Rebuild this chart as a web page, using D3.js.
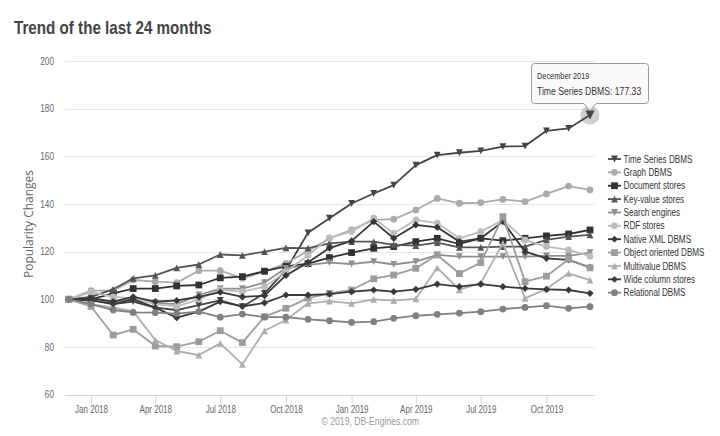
<!DOCTYPE html>
<html>
<head>
<meta charset="utf-8">
<script src="https://cdn.jsdelivr.net/npm/d3@7"></script>
<style>
  body { margin: 0; background: #fff; }
  svg { display: block; }
  text { font-family: "Liberation Sans", Arial, sans-serif; }
</style>
</head>
<body>
<svg width="720" height="436"></svg>
<script>
// maanden (Dec 2017 t/m Dec 2019)
var months = ["2017-12", "2018-01", "2018-02", "2018-03", "2018-04", "2018-05", "2018-06",
  "2018-07", "2018-08", "2018-09", "2018-10", "2018-11", "2018-12", "2019-01", "2019-02",
  "2019-03", "2019-04", "2019-05", "2019-06", "2019-07", "2019-08", "2019-09", "2019-10",
  "2019-11", "2019-12"]

var tickMonths = ["2018-01", "2018-04", "2018-07", "2018-10", "2019-01", "2019-04", "2019-07", "2019-10"]
var yTicks = [60, 80, 100, 120, 140, 160, 180, 200]

var names = ["Time Series DBMS", "Graph DBMS", "Document stores", "Key-value stores", "Search engines",
  "RDF stores", "Native XML DBMS", "Object oriented DBMS", "Multivalue DBMS", "Wide column stores", "Relational DBMS"]

var timeSeries = [100, 100.5, 98, 99, 96.5, 95.5, 97.5, 99.5, 96.9, 102.5, 112.3, 127.9, 134, 140.2, 144.4, 147.9, 156.3, 160.5, 161.5, 162.3, 164.1, 164.3, 170.7, 171.7, 177.33]
var graph = [100, 103.6, 103.6, 108.1, 107.4, 107, 112, 112, 108.8, 111.6, 115.1, 120.3, 125.6, 129.1, 133.3, 133.6, 137.5, 142.3, 140.3, 140.6, 141.9, 141, 144.2, 147.5, 145.9]
var documentStores = [100, 100, 102.5, 104.5, 104.5, 105.6, 106, 109, 109.5, 111.8, 113.8, 115, 117.5, 119.6, 121.4, 122.1, 124.2, 125.6, 123.2, 125.6, 124.6, 125.6, 126.6, 127.4, 129.1]
var keyValue = [100, 101, 104.2, 108.8, 110, 113.2, 114.6, 118.8, 118.4, 120, 121.6, 121.5, 123.5, 124.2, 124.2, 122.8, 122.5, 123.8, 121.8, 121.8, 122.1, 122.1, 124.9, 126.3, 127]
var searchEngines = [100, 99.5, 99, 100, 98.5, 98, 101.8, 104.5, 104.5, 107, 113, 114.4, 115.4, 114.8, 115.8, 114.6, 115.8, 118.6, 117.9, 117.9, 117.9, 117.9, 118.2, 118.2, 119.6]
var rdf = [100, 103, 101, 100.5, 98, 97, 100, 104, 103.2, 105.3, 111.5, 118.5, 125.8, 128.4, 134, 127.7, 133.3, 132, 125.6, 128.4, 133.3, 124.9, 122.1, 120.7, 118.1]
var nativeXml = [100, 100.5, 99, 101, 99, 99.5, 101, 103, 101, 101.5, 110, 115.5, 121.5, 124.5, 132.6, 125.6, 131.2, 130.2, 124.2, 125.6, 132.6, 120, 117.2, 116.5, 113.4]
var objectOriented = [100, 97, 85, 87.4, 80.4, 80.1, 82.2, 86.8, 81.8, 92.7, 96.2, 100.5, 102.5, 103.9, 108.6, 110.2, 113, 118.6, 110.8, 115.4, 134.7, 107.4, 109.7, 116.8, 113.2]
var multivalue = [100, 98, 96.5, 95, 82.9, 78.3, 76.6, 81.5, 72.7, 86.8, 91.3, 98.3, 99.2, 98.3, 100, 99.4, 100.2, 113.2, 104, 106.8, 123.5, 100.4, 104.4, 110.9, 108]
var wideColumn = [100, 99.5, 98, 100, 96.5, 92.3, 94.8, 99, 97, 98.5, 101.8, 101.8, 102.2, 103.2, 103.9, 103.2, 104.2, 106.4, 105.3, 106.4, 105.3, 104.6, 104.2, 103.9, 102.5]
var relational = [100, 98, 95.5, 94.5, 94.4, 94, 94.8, 92.5, 93.8, 92.5, 92.5, 91.6, 91, 90.3, 90.6, 92, 93.1, 93.7, 94.2, 94.8, 95.9, 96.6, 97.3, 96.2, 96.9]

var values = [timeSeries, graph, documentStores, keyValue, searchEngines, rdf, nativeXml,
  objectOriented, multivalue, wideColumn, relational]

var colors = ["#444444", "#aaaaaa", "#323232", "#555555", "#8e8e8e", "#bcbcbc", "#383838",
  "#9c9c9c", "#adadad", "#3a3a3a", "#808080"]
var symbols = ["triangle-down", "circle", "square", "triangle", "triangle-down", "circle", "diamond",
  "square", "triangle", "diamond", "circle"]

var svg = d3.select("svg")
var parseMonth = d3.utcParse("%Y-%m")

// smalle letter: Arial iets samengedrukt
var squeeze = 0.8
function narrow(sel, tx, ty) {
  return sel.attr("transform", "translate(" + tx + "," + ty + ") scale(" + squeeze + ",1)")
}

var x = d3.scaleUtc()
  .domain([Date.UTC(2017, 10, 25, 12), Date.UTC(2019, 11, 8)])
  .range([65, 595])

var y = d3.scaleLinear()
  .domain([60, 200])
  .range([394.6, 61])

// marker vormen zoals in de grafiek
function marker(type, r) {
  if (type == "circle") return d3.symbol(d3.symbolCircle, Math.PI * r * r)()
  if (type == "square") return "M" + -r + "," + -r + "H" + r + "V" + r + "H" + -r + "Z"
  if (type == "diamond") return "M0," + -r + "L" + r + ",0L0," + r + "L" + -r + ",0Z"
  if (type == "triangle") return "M0," + -r + "L" + r + "," + r + "L" + -r + "," + r + "Z"
  return "M" + -r + "," + -r + "L" + r + "," + -r + "L0," + r + "Z"
}

// titel
narrow(svg.append("text"), 14, 34)
  .attr("font-size", 19)
  .attr("font-weight", "bold")
  .attr("fill", "#444")
  .text("Trend of the last 24 months")

// gridlijnen
svg.append("g")
  .selectAll("line")
  .data(yTicks)
  .enter().append("line")
  .attr("x1", 65).attr("x2", 595)
  .attr("y1", function(d) { return Math.round(y(d)) + 0.5 })
  .attr("y2", function(d) { return Math.round(y(d)) + 0.5 })
  .attr("stroke", function(d) { return d == 60 ? "#d6d6d6" : "#e6e6e6" })

svg.append("g")
  .selectAll("text")
  .data(yTicks)
  .enter().append("text")
  .attr("transform", function(d) { return "translate(54," + (y(d) + 3.6) + ") scale(" + squeeze + ",1)" })
  .attr("text-anchor", "end")
  .attr("font-size", 10.3)
  .attr("fill", "#666")
  .text(function(d) { return d })

// x-as
var xAxis = svg.append("g")
  .attr("transform", "translate(0," + (Math.round(y(60)) + 0.5) + ")")
  .call(d3.axisBottom(x)
    .tickValues(tickMonths.map(parseMonth))
    .tickFormat(d3.utcFormat("%b %Y"))
    .tickSize(8)
    .tickPadding(2))
xAxis.select(".domain").remove()
xAxis.selectAll(".tick line").attr("stroke", "#d6d6d6")
xAxis.selectAll(".tick text")
  .attr("fill", "#666")
  .attr("font-size", 10)
  .attr("font-family", null)
  .attr("transform", "scale(" + squeeze + ",1)")

svg.append("text")
  .attr("transform", "translate(33,224) rotate(-90)")
  .attr("text-anchor", "middle")
  .attr("font-size", 12)
  .attr("fill", "#666")
  .style("font-family", "'Open Sans', sans-serif")
  .text("Popularity Changes")

narrow(svg.append("text"), 419, 425)
  .attr("text-anchor", "end")
  .attr("font-size", 10.8)
  .attr("fill", "#999")
  .text("\u00a9 2019, DB-Engines.com")

// lijnen + markers
var line = d3.line()
  .x(function(d, i) { return x(parseMonth(months[i])) })
  .y(function(d) { return y(d) })

var series = svg.append("g")
  .selectAll("g")
  .data(values)
  .enter().append("g")

series.append("path")
  .attr("d", line)
  .attr("fill", "none")
  .attr("stroke", function(d, i) { return colors[i] })
  .attr("stroke-width", 1.8)
  .attr("stroke-linejoin", "round")

series.each(function(vals, s) {
  d3.select(this).selectAll(".pt")
    .data(vals)
    .enter().append("path")
    .attr("class", "pt")
    .attr("transform", function(d, i) { return "translate(" + x(parseMonth(months[i])) + "," + y(d) + ")" })
    .attr("d", marker(symbols[s], symbols[s] == "diamond" ? 3.6 : 3.4))
    .attr("fill", colors[s])
})

// legenda
var legend = svg.append("g")
  .selectAll("g")
  .data(names)
  .enter().append("g")
  .attr("transform", function(d, i) { return "translate(608," + (159 + i * 13.37) + ")" })

legend.append("line")
  .attr("x1", 0).attr("x2", 13)
  .attr("stroke", function(d, i) { return colors[i] })
  .attr("stroke-width", 1.8)

legend.append("path")
  .attr("transform", "translate(6.5,0)")
  .attr("d", function(d, i) { return marker(symbols[i], 3.4) })
  .attr("fill", function(d, i) { return colors[i] })

narrow(legend.append("text"), 15.5, 3.6)
  .attr("font-size", 10.2)
  .attr("fill", "#333")
  .text(function(d) { return d })

// tooltip bij laatste punt
var last = timeSeries.length - 1
var px = x(parseMonth(months[last]))
var py = y(timeSeries[last])

svg.append("circle")
  .attr("cx", px).attr("cy", py)
  .attr("r", 9.5)
  .attr("fill", "#444")
  .attr("opacity", 0.25)

svg.append("path")
  .attr("transform", "translate(" + px + "," + py + ")")
  .attr("d", marker("triangle-down", 4.5))
  .attr("fill", colors[0])

var tip = svg.append("g")
tip.append("path")
  .attr("d", "M534.5,63.5H645.5Q648.5,63.5 648.5,66.5V100.5Q648.5,103.5 645.5,103.5H" + (px + 6) +
    "L" + px + "," + (py - 4) + "L" + (px - 6) + ",103.5H534.5Q531.5,103.5 531.5,100.5V66.5Q531.5,63.5 534.5,63.5Z")
  .attr("fill", "rgba(248,248,248,0.92)")
  .attr("stroke", "#9a9a9a")

narrow(tip.append("text"), 537, 79)
  .attr("font-size", 9.2)
  .attr("fill", "#333")
  .text("December 2019")

narrow(tip.append("text"), 537, 95)
  .attr("font-size", 10.8)
  .attr("fill", "#333")
  .text(names[0] + ": " + timeSeries[last].toFixed(2))
</script>
</body>
</html>
